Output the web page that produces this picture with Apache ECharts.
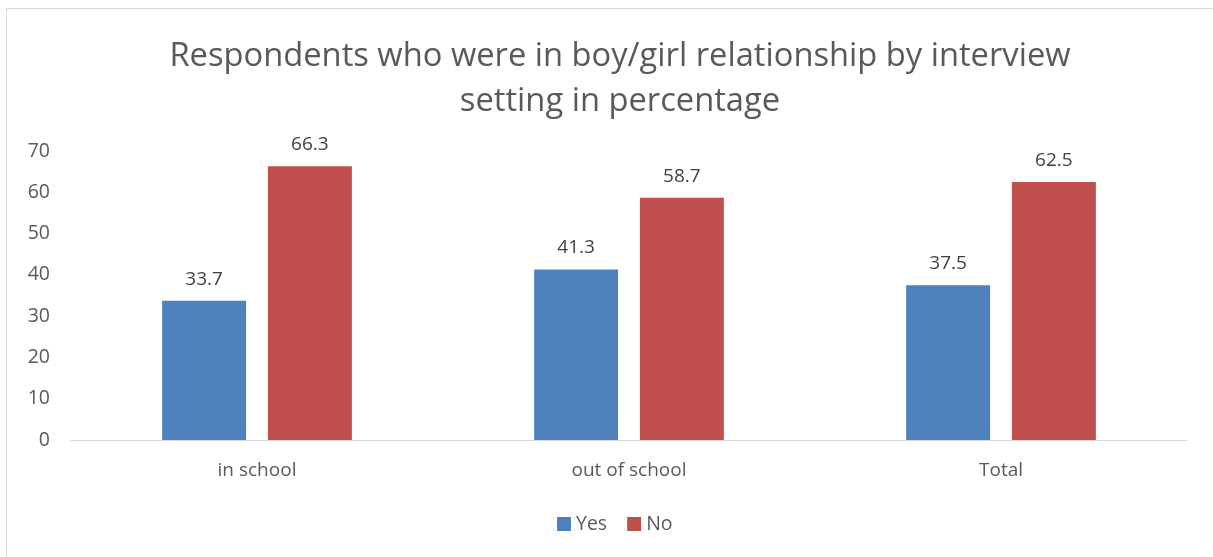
<!DOCTYPE html>
<html>
<head>
<meta charset="utf-8">
<script src="https://cdn.jsdelivr.net/npm/echarts@6/dist/echarts.min.js"></script>
<style>
html,body{margin:0;padding:0;background:#fff;}
#frame{position:absolute;left:6px;top:8px;width:1300px;height:700px;border:1px solid #d9d9d9;box-sizing:border-box;}
#graph{position:absolute;left:0;top:0;width:1213px;height:557px;}
</style>
</head>
<body>
<div id="frame"></div>
<div id="graph"></div>
<script>
var categories = ['in school', 'out of school', 'Total'];
var yesValues = [33.7, 41.3, 37.5];
var noValues = [66.3, 58.7, 62.5];

var myChart = echarts.init(document.getElementById('graph'));
var font = 'Open Sans';

var option = {
	title: {
		text: 'Respondents who were in boy/girl relationship by interview\nsetting in percentage',
		left: 615,
		top: 29,
		textAlign: 'center',
		textStyle: {
			fontFamily: font,
			fontSize: 32.7,
			fontWeight: 'normal',
			color: '#595959',
			lineHeight: 45,
			align: 'center'
		}
	},
	legend: {
		data: ['Yes', 'No'],
		bottom: 18,
		left: 552,
		itemWidth: 14,
		itemHeight: 14,
		itemGap: 20,
		icon: 'rect',
		textStyle: {fontFamily: font, fontSize: 19.5, color: '#595959'}
	},
	grid: {left: 71, right: 26, top: 151, bottom: 117},
	xAxis: {
		type: 'category',
		data: categories,
		axisTick: {show: false},
		axisLine: {lineStyle: {color: '#d9d9d9', width: 1}},
		axisLabel: {fontFamily: font, fontSize: 19, color: '#595959', margin: 21}
	},
	yAxis: {
		type: 'value',
		min: 0,
		max: 70,
		interval: 10,
		splitLine: {show: false},
		axisLine: {show: false},
		axisTick: {show: false},
		axisLabel: {fontFamily: font, fontSize: 19.5, color: '#595959', margin: 21}
	},
	series: [{
		name: 'Yes',
		type: 'bar',
		data: yesValues,
		barGap: '26%',
		barCategoryGap: '49%',
		itemStyle: {color: '#4F81BD'},
		label: {show: true, position: 'top', distance: 12, fontFamily: font, fontSize: 19, color: '#404040'}
	}, {
		name: 'No',
		type: 'bar',
		data: noValues,
		itemStyle: {color: '#C0504D'},
		label: {show: true, position: 'top', distance: 12, fontFamily: font, fontSize: 19, color: '#404040'}
	}]
};
myChart.setOption(option);
</script>
</body>
</html>
